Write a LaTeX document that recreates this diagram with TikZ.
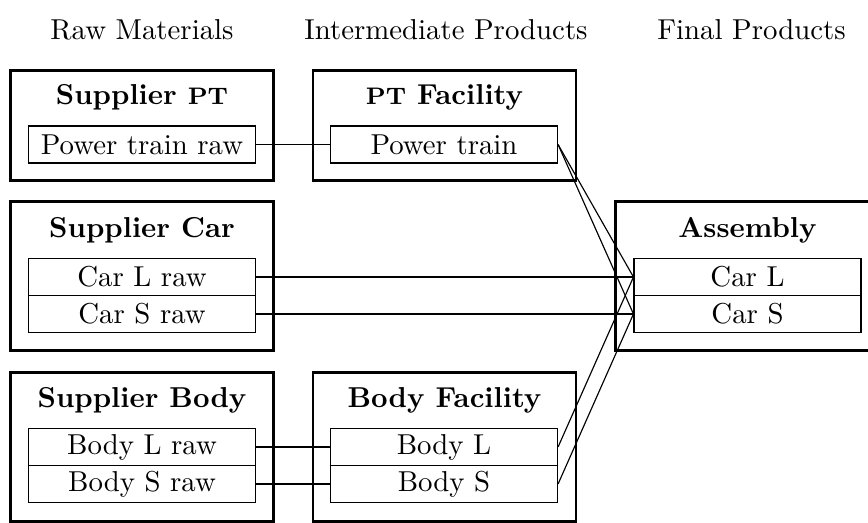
\documentclass[tikz,border=0pt]{standalone}
\usepackage{tikz}
% bold small capitals are faked with a smaller upright size
\newcommand\boldsc[1]{{\fontsize{8.3pt}{9pt}\selectfont #1}}
\begin{document}
\begin{tikzpicture}[x=0.3472pt,y=-0.3472pt,
  group/.style={draw,line width=1pt,minimum width=91.3pt,inner sep=0pt},
  item/.style={draw,line width=0.4pt,minimum width=78.8pt,minimum height=12.85pt,inner sep=0pt,font=\normalsize},
  title/.style={font=\bfseries,inner sep=0pt},
  head/.style={inner sep=0pt},
  link/.style={line width=0.4pt}]
\clip (0,0) rectangle (868,522);

% column headings
\node[head] (hraw) at (142,30) {Raw Materials};
\node[head] (hint) at (446,30) {Intermediate Products};
\node[head] (hfin) at (751.5,30) {Final Products};

% group frames
\node[group,minimum height=38.2pt] (gspt) at (142,125.5) {};
\node[group,minimum height=38.2pt] (gfpt) at (444.5,125.5) {};
\node[group,minimum height=51.7pt] (gscar) at (142,276) {};
\node[group,minimum height=51.7pt] (gasm) at (747,276) {};
\node[group,minimum height=51.7pt] (gsbody) at (142,447) {};
\node[group,minimum height=51.7pt] (gfbody) at (444.5,447) {};

% group titles
\node[title] (tspt) at (142,97) {Supplier \boldsc{PT}};
\node[title] (tfpt) at (444.5,97) {\boldsc{PT} Facility};
\node[title] (tscar) at (142,230) {Supplier Car};
\node[title] (tasm) at (747.5,230) {Assembly};
\node[title] (tsbody) at (142,400) {Supplier Body};
\node[title] (tfbody) at (444.5,400) {Body Facility};

% items
\node[item] (ptraw) at (142,144.5) {Power train raw};
\node[item] (pt) at (444,144.5) {Power train};
\node[item] (carlraw) at (142,277) {Car L raw};
\node[item] (carsraw) at (142,314) {Car S raw};
\node[item] (carl) at (747.5,277) {Car L};
\node[item] (cars) at (747.5,314) {Car S};
\node[item] (bodylraw) at (142,447) {Body L raw};
\node[item] (bodysraw) at (142,484) {Body S raw};
\node[item] (bodyl) at (444,447) {Body L};
\node[item] (bodys) at (444,484) {Body S};

% flows
\draw[link] (ptraw.east) -- (pt.west);
\draw[link] (carlraw.east) -- (carl.west);
\draw[link] (carsraw.east) -- (cars.west);
\draw[link] (bodylraw.east) -- (bodyl.west);
\draw[link] (bodysraw.east) -- (bodys.west);
\draw[link] (pt.east) -- (carl.west);
\draw[link] (pt.east) -- (cars.west);
\draw[link] (bodyl.east) -- (carl.west);
\draw[link] (bodys.east) -- (cars.west);
\end{tikzpicture}
\end{document}
